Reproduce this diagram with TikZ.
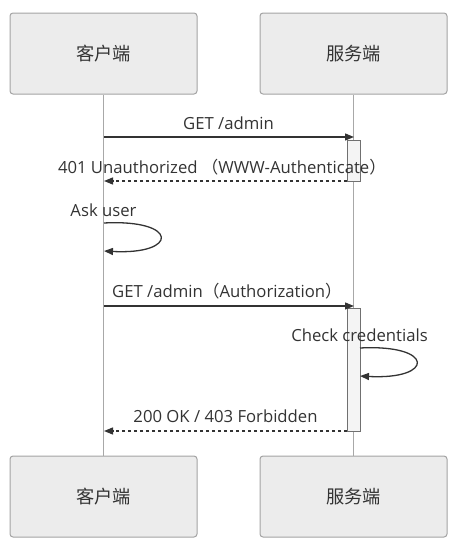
\documentclass[tikz,border=0pt]{standalone}
\usepackage{fontspec}
\setmainfont{Open Sans}
\newfontfamily\cjk{Noto Sans CJK SC}
\usetikzlibrary{arrows.meta}
\definecolor{boxfill}{HTML}{ECECEC}
\definecolor{boxline}{HTML}{A3A3A3}
\definecolor{txt}{HTML}{333333}
\definecolor{life}{HTML}{A8A8A8}
\definecolor{actfill}{HTML}{F4F4F4}
\definecolor{actline}{HTML}{707070}
\begin{document}
\begin{tikzpicture}[x=1pt,y=-1pt,
  actor/.style={draw=boxline, fill=boxfill, rounded corners=3pt, line width=1pt,
    minimum width=187pt, minimum height=81pt, inner sep=0pt, text=txt,
    font=\cjk\fontsize{18.2}{20}\selectfont},
  lifeline/.style={draw=life, line width=1pt},
  actbar/.style={draw=actline, fill=actfill, line width=1pt, minimum width=13pt, inner sep=0pt},
  msg/.style={draw=txt, line width=1.3pt, -{Triangle[length=9pt,width=7pt]}},
  ret/.style={msg, dashed, dash pattern=on 3.5pt off 2.5pt},
  lbl/.style={text=txt, font=\fontsize{16.7}{19}\selectfont, anchor=base, inner sep=0pt}
]
\useasboundingbox (0,0) rectangle (466,557);
% actors
\node[actor] (ct) at (103.5,53.5) {客户端};
\node[actor] (st) at (353.5,53.5) {服务端};
\node[actor] (cb) at (103.5,496.5) {客户端};
\node[actor] (sb) at (353.5,496.5) {服务端};
% lifelines
\draw[lifeline] (ct.south) -- (cb.north);
\draw[lifeline] (st.south) -- (sb.north);
% activation bars
\node[actbar, minimum height=41pt] (a1) at (353.5,160.5) {};
\node[actbar, minimum height=123pt] (a2) at (353.5,369.5) {};
% message 1
\coordinate (m1s) at (104,137);
\coordinate (m1e) at (354,137);
\draw[msg] (m1s) -- (m1e);
\node[lbl] (l1) at (228.5,129.5) {GET /admin};
% message 2
\coordinate (m2s) at (347,181);
\coordinate (m2e) at (104,181);
\draw[ret] (m2s) -- (m2e);
\node[lbl] (l2) at (222,173) {401 Unauthorized\hspace{4pt}{\cjk （}WWW-Authenticate{\cjk ）}};
% self loop ask user
\coordinate (s1s) at (104,223);
\coordinate (s1e) at (104,251);
\draw[msg] (s1s) .. controls (179,219) and (179,255) .. (s1e);
\node[lbl] (l3) at (103.5,216) {Ask user};
% message 5
\coordinate (m5s) at (104,306);
\coordinate (m5e) at (354,306);
\draw[msg] (m5s) -- (m5e);
\node[lbl] (l5) at (227,297.5) {GET /admin{\cjk （}Authorization{\cjk ）}};
% self loop check credentials
\coordinate (s2s) at (360,348);
\coordinate (s2e) at (360,376);
\draw[msg] (s2s) .. controls (435,344) and (435,380) .. (s2e);
\node[lbl] (l6) at (359.5,341) {Check credentials};
% message 8
\coordinate (m8s) at (347,431);
\coordinate (m8e) at (104,431);
\draw[ret] (m8s) -- (m8e);
\node[lbl] (l8) at (225.5,422.5) {200 OK / 403 Forbidden};
\end{tikzpicture}
\end{document}
